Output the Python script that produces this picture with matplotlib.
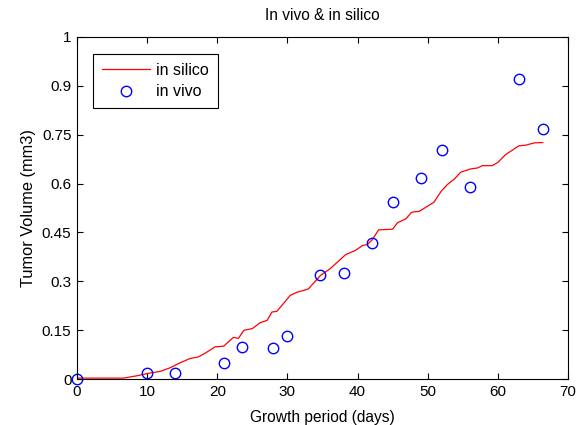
import numpy as np
import matplotlib
matplotlib.use('Agg')
import matplotlib.pyplot as plt

# in silico curve
silico_days = [0, 6.6, 8.5, 10, 11.9, 13.3, 14.7, 16.1, 17.3, 18.3, 19.7, 20.9, 22.3, 23.0,
               23.8, 25.0, 26.1, 27.1, 27.8, 28.5, 30.4, 31.4, 32.3, 33.0, 34.7, 36.1, 38.3,
               39.7, 40.7, 41.4, 42.1, 43.0, 45.0, 45.7, 46.9, 47.7, 48.8, 49.7, 50.9, 51.9,
               52.8, 53.8, 54.7, 56.1, 57.1, 57.8, 59.2, 60.0, 61.1, 62.1, 63.0, 64.0, 65.2, 66.4]
silico_vol = [0.003, 0.003, 0.01, 0.017, 0.024, 0.035, 0.05, 0.063, 0.068, 0.08, 0.099, 0.101,
              0.128, 0.125, 0.15, 0.155, 0.173, 0.18, 0.206, 0.208, 0.257, 0.267, 0.272, 0.277,
              0.318, 0.339, 0.382, 0.395, 0.41, 0.413, 0.428, 0.458, 0.46, 0.48, 0.492, 0.512,
              0.515, 0.527, 0.543, 0.576, 0.597, 0.614, 0.635, 0.645, 0.648, 0.655, 0.655,
              0.665, 0.689, 0.703, 0.716, 0.718, 0.725, 0.726]

# in vivo measurements
vivo_days = [0, 10, 14, 21, 23.5, 28, 30, 34.6, 38, 42, 45, 49, 52, 56, 63, 66.5]
vivo_vol = [0, 0.02, 0.02, 0.048, 0.099, 0.094, 0.132, 0.321, 0.325, 0.419, 0.544, 0.618,
            0.702, 0.591, 0.920, 0.769]

xticks = [0, 10, 20, 30, 40, 50, 60, 70]
yticks = [0, 0.15, 0.3, 0.45, 0.6, 0.75, 0.9, 1.05]
ytick_labels = ['0', '0.15', '0.3', '0.45', '0.6', '0.75', '0.9', '1']

plt.rcParams['font.family'] = ['Liberation Sans', 'DejaVu Sans']
plt.rcParams['font.size'] = 11

fig = plt.figure(figsize=(5.79, 4.25), dpi=100)
ax = fig.add_axes([0.133, 0.108, 0.848, 0.805])

ax.plot(silico_days, silico_vol, color='red', lw=0.9, label='in silico')
ax.plot(vivo_days, vivo_vol, 'o', color='blue', mfc='none', ms=7.5, mew=1.0, label='in vivo',
        clip_on=False)

ax.set_xlim(0, 70)
ax.set_ylim(0, 1.05)
ax.set_xticks(xticks)
ax.set_yticks(yticks)
ax.set_yticklabels(ytick_labels)
ax.tick_params(direction='in', top=True, right=True, length=4, width=0.8, pad=4, labelsize=11)
for s in ax.spines.values():
    s.set_linewidth(0.8)

ax.set_title('In vivo & in silico', fontsize=11.2, pad=12)
ax.set_xlabel('Growth period (days)', fontsize=11.2, labelpad=8)
ax.set_ylabel('Tumor Volume (mm3)', fontsize=11.8, labelpad=4)

leg = ax.legend(loc='upper left', bbox_to_anchor=(0.033, 0.95), borderaxespad=0,
                fancybox=False, edgecolor='black', handlelength=3.0, framealpha=1,
                fontsize=11.5, labelspacing=0.4, borderpad=0.55, handletextpad=0.4)
leg.get_frame().set_linewidth(0.8)

fig.savefig('out.png', dpi=100)
